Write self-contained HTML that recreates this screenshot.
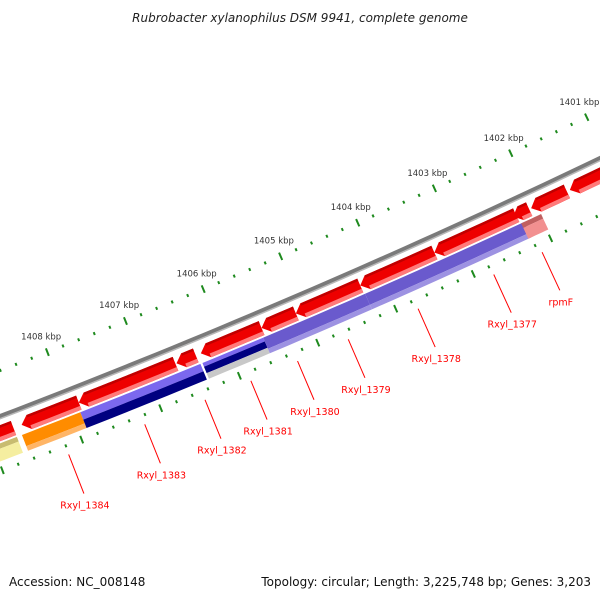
<!DOCTYPE html>
<html><head><meta charset="utf-8"><style>
html,body{margin:0;padding:0;background:#fff;}
svg{display:block;font-family:"DejaVu Sans","Liberation Sans",sans-serif;}
</style></head><body>
<svg id="map" width="600" height="600" viewBox="0 0 600 600">
<text x="300" y="22" text-anchor="middle" font-size="12" font-style="italic" fill="#222">Rubrobacter xylanophilus DSM 9941, complete genome</text>
<text x="9" y="586" font-size="12" fill="#111">Accession: NC_008148</text>
<text x="591" y="586" text-anchor="end" font-size="12" fill="#111">Topology: circular; Length: 3,225,748 bp; Genes: 3,203</text>
<g id="g"></g>
</svg>
<script>
// ---- data ----
const redStarts = [1408700,1407872,1406642,1406383,1405541,1405101,1404272,1403314,1402252,1402083,1401591,1400900];
const redEnds   = [1409400,1408597,1407872,1406629,1406318,1405541,1405101,1404272,1403314,1402291,1402057,1401552];
const lowStarts = [1408700,1407897,1406370,1405567,1404259,1402200,1401980];
const lowEnds   = [1409400,1408636,1407897,1406344,1405567,1404259,1402239];
const geneNames = ["Rxyl_1384","Rxyl_1383","Rxyl_1382","Rxyl_1381","Rxyl_1380","Rxyl_1379","Rxyl_1378","Rxyl_1377","rpmF"];
const geneBases = [1408206,1407245,1406481,1405898,1405303,1404655,1403759,1402784,1402159];
const tickStart = 1400000, tickEnd = 1410000, tickStep = 200, majorStep = 1000;

// ---- geometry ----
const CX=-2860, CY=-7059, A0=66.16, DPB=0.000605, B0=1404000;
function pt(b,r){const a=(A0+(b-B0)*DPB)*Math.PI/180;return [CX+r*Math.cos(a),CY+r*Math.sin(a)];}
const NS="http://www.w3.org/2000/svg";
const G=document.getElementById('g');
function mk(tag,attrs){const e=document.createElementNS(NS,tag);for(const k in attrs)e.setAttribute(k,attrs[k]);G.appendChild(e);return e;}
function arcPts(b1,b2,r,n){const p=[];for(let i=0;i<=n;i++){p.push(pt(b1+(b2-b1)*i/n,r));}return p;}
function band(b1,b2,r1,r2,fill){
  const p=arcPts(b1,b2,r1,6).concat(arcPts(b2,b1,r2,6));
  return mk('polygon',{points:p.map(q=>q[0].toFixed(2)+','+q[1].toFixed(2)).join(' '),fill:fill});
}

// backbone
{
  const p=arcPts(1399000,1411000,8004,60);
  const d='M'+p.map(q=>q[0].toFixed(2)+','+q[1].toFixed(2)).join(' L');
  const b=mk('path',{d:d,stroke:'#7a7a7a','stroke-width':5,fill:'none'});
  
  
  const p2=arcPts(1399000,1411000,8006,60);
  const h=mk('path',{d:'M'+p2.map(q=>q[0].toFixed(2)+','+q[1].toFixed(2)).join(' L'),stroke:'#b8b8b8','stroke-width':1.5,fill:'none'});
  
  
}

// tick rings
function ticks(r,ringName){
  for(let b=tickStart;b<=tickEnd;b+=tickStep){
    const major=(b%majorStep===0);
    const L=major?4:1.5;
    const a=pt(b,r-L),c=pt(b,r+L);
    const t=mk('line',{x1:a[0],y1:a[1],x2:c[0],y2:c[1],stroke:'#1e8a1e','stroke-width':2});
    
    
    if(major&&ringName==='inner'){
      const lp=pt(b,7944);
      const tx=mk('text',{x:lp[0].toFixed(1),y:(lp[1]+3).toFixed(1),'text-anchor':'middle','font-size':8.5,fill:'#333'});
      tx.textContent=(b/1000)+' kbp';
      
      
    }
  }
}
ticks(7961,'inner');
ticks(8055,'outer');

// red arrows (upper feature row)
const rIn=8012,rOut=8027,tipPx=8;
for(let i=0;i<redStarts.length;i++){
  const lo=redStarts[i],hi=redEnds[i];
  const tip=Math.min(tipPx/0.084,(hi-lo)*0.45);
  const bodyEnd=hi-tip;
  const p=arcPts(lo,bodyEnd,rIn,5);
  p.push(pt(hi,(rIn+rOut)/2));
  arcPts(bodyEnd,lo,rOut,5).forEach(q=>p.push(q));
  const poly=mk('polygon',{points:p.map(q=>q[0].toFixed(2)+','+q[1].toFixed(2)).join(' '),fill:'#ee0000'});
  
  
  band(lo,bodyEnd,rIn,rIn+2.5,'#c00000');
  band(lo,bodyEnd,rOut-4,rOut,'#ff7a7a');
}

// lower feature row
const lowStyles=[
  [[0,5,'#c8bc70'],[5,17,'#f5eea0']],
  [[0,12,'#ff8c00'],[12,17,'#ffb566']],
  [[0,8,'#7b68ee'],[8,17,'#000080']],
  [[0,4,'#7b68ee'],[4,11,'#000080'],[11,17,'#c8c8c8']],
  [[0,12,'#6a5acd'],[12,17,'#9d92e2']],
  [[0,12,'#6a5acd'],[12,17,'#9d92e2']],
  [[0,5,'#c06060'],[5,17,'#f29090']]
];
const lIn=8029;
for(let i=0;i<lowStarts.length;i++){
  const st=lowStyles[i]||lowStyles[4];
  st.forEach((s,j)=>{
    const e=band(lowStarts[i],lowEnds[i],lIn+s[0],lIn+s[1],s[2]);
    
    
  });
}

// gene labels
for(let i=0;i<geneNames.length;i++){
  const a=pt(geneBases[i],8064),c=pt(geneBases[i],8106);
  const l=mk('line',{x1:a[0],y1:a[1],x2:c[0],y2:c[1],stroke:'#ff0000','stroke-width':1});
  
  
  const t=mk('text',{x:(c[0]+1).toFixed(1),y:(c[1]+15).toFixed(1),'text-anchor':'middle','font-size':9.5,fill:'#ff0000'});
  t.textContent=geneNames[i];
  
  
}
</script>
</body></html>
